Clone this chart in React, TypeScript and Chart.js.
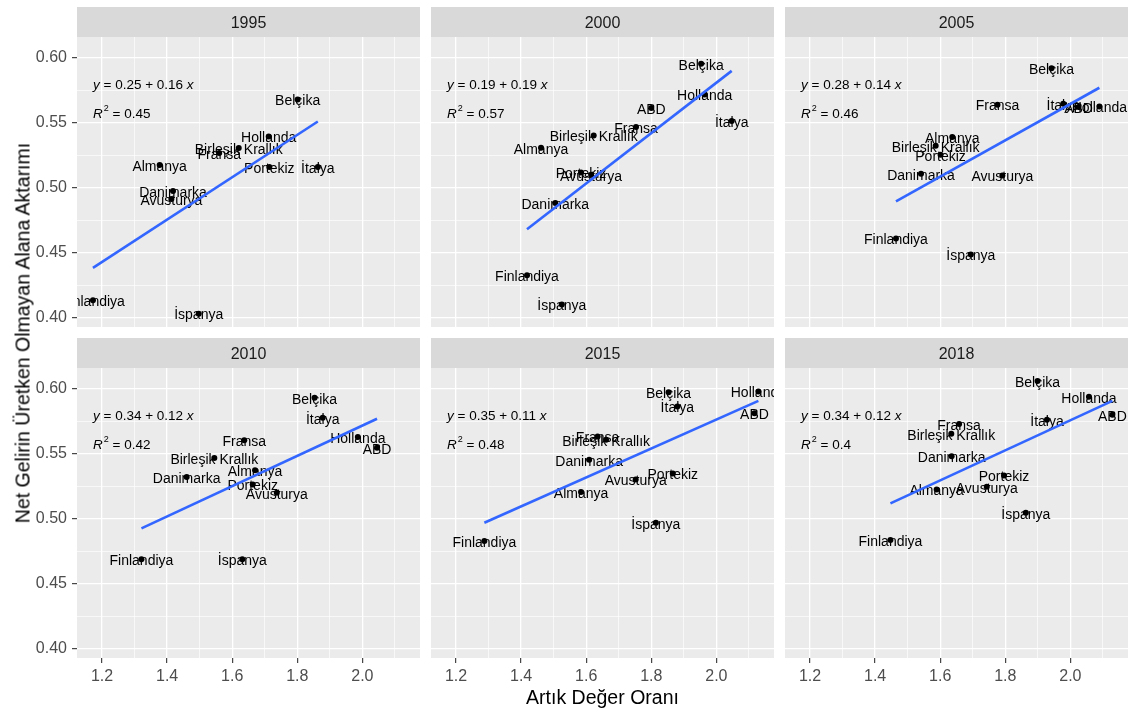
import React, { useEffect, useRef } from "react";
import { Chart, registerables } from "chart.js";

Chart.register(...registerables);

const FONT = '"Liberation Sans", Arial, Helvetica, sans-serif';

// ---------- data ----------
const countries = [
  "Belçika",
  "Hollanda",
  "Birleşik Krallık",
  "Fransa",
  "Almanya",
  "Portekiz",
  "İtalya",
  "Danimarka",
  "Avusturya",
  "Finlandiya",
  "İspanya",
  "ABD",
];

const years = ["1995", "2000", "2005", "2010", "2015", "2018"];

const x1995 = [1.801, 1.712, 1.62, 1.56, 1.377, 1.714, 1.863, 1.418, 1.413, 1.172, 1.497, null];
const y1995 = [0.568, 0.5395, 0.5305, 0.5267, 0.5174, 0.5159, 0.516, 0.4974, 0.4913, 0.4133, 0.403, null];

const x2000 = [1.953, 1.964, 1.623, 1.753, 1.461, 1.584, 2.047, 1.505, 1.615, 1.418, 1.525, 1.8];
const y2000 = [0.5954, 0.5718, 0.5403, 0.5467, 0.5308, 0.5118, 0.5513, 0.4882, 0.51, 0.4326, 0.41, 0.5615];

const x2005 = [1.942, 2.089, 1.586, 1.776, 1.637, 1.601, 1.978, 1.541, 1.791, 1.464, 1.694, 2.025];
const y2005 = [0.592, 0.5625, 0.5323, 0.564, 0.539, 0.5254, 0.5646, 0.5108, 0.5095, 0.4608, 0.4485, 0.5622];

const x2010 = [1.853, 1.986, 1.545, 1.637, 1.67, 1.663, 1.878, 1.46, 1.737, 1.321, 1.631, 2.045];
const y2010 = [0.5931, 0.5629, 0.5468, 0.5604, 0.5373, 0.5263, 0.5777, 0.5322, 0.52, 0.4688, 0.4688, 0.5547];

const x2015 = [1.853, 2.129, 1.661, 1.635, 1.584, 1.866, 1.88, 1.609, 1.752, 1.287, 1.814, 2.117];
const y2015 = [0.5974, 0.598, 0.5609, 0.5634, 0.5205, 0.5348, 0.5864, 0.5455, 0.5302, 0.4829, 0.4969, 0.5813];

const x2018 = [1.899, 2.057, 1.634, 1.658, 1.589, 1.796, 1.928, 1.635, 1.743, 1.447, 1.863, 2.129];
const y2018 = [0.6061, 0.5939, 0.5655, 0.5729, 0.5225, 0.5333, 0.5762, 0.5481, 0.5246, 0.4836, 0.5046, 0.58];

// fitted lines (end points)
const trendX1995 = [1.172, 1.863];
const trendY1995 = [0.4382, 0.551];
const trendX2000 = [1.418, 2.047];
const trendY2000 = [0.468, 0.59];
const trendX2005 = [1.464, 2.089];
const trendY2005 = [0.4895, 0.577];
const trendX2010 = [1.321, 2.045];
const trendY2010 = [0.4926, 0.577];
const trendX2015 = [1.287, 2.129];
const trendY2015 = [0.4969, 0.5908];
const trendX2018 = [1.447, 2.129];
const trendY2018 = [0.5118, 0.5908];

const intercepts = ["0.25", "0.19", "0.28", "0.34", "0.35", "0.34"];
const slopes = ["0.16", "0.19", "0.14", "0.12", "0.11", "0.12"];
const r2Values = ["0.45", "0.57", "0.46", "0.42", "0.48", "0.4"];

const xTickValues = [1.2, 1.4, 1.6, 1.8, 2.0];
const xTickLabels = ["1.2", "1.4", "1.6", "1.8", "2.0"];
const xMinorValues = [1.3, 1.5, 1.7, 1.9, 2.1];
const yTickValues = [0.4, 0.45, 0.5, 0.55, 0.6];
const yTickLabels = ["0.40", "0.45", "0.50", "0.55", "0.60"];
const yMinorValues = [0.425, 0.475, 0.525, 0.575];

const xTitle = "Artık Değer Oranı";
const yTitle = "Net Gelirin Üretken Olmayan Alana Aktarımı";

const X_MIN = 1.123;
const X_MAX = 2.177;
const Y_MIN = 0.3927;
const Y_MAX = 0.6161;

const seriesX = [x1995, x2000, x2005, x2010, x2015, x2018];
const seriesY = [y1995, y2000, y2005, y2010, y2015, y2018];
const trendXs = [trendX1995, trendX2000, trendX2005, trendX2010, trendX2015, trendX2018];
const trendYs = [trendY1995, trendY2000, trendY2005, trendY2010, trendY2015, trendY2018];

// ---------- layout ----------
const PANEL_LEFTS = [77, 431, 785];
const PANEL_W = 343;
const ROW_TOPS = [7, 338];
const STRIP_H = 30;
const PLOT_H = 290;
const X_AXIS_H = 30;
const Y_AXIS_W = 77;

const near = (a: number, list: number[]) => list.findIndex((t) => Math.abs(t - a) < 1e-6);

const panelPlugin = {
  id: "ggpanel",
  beforeDraw(chart: any, _args: any, opts: any) {
    const { ctx, chartArea: a } = chart;
    ctx.save();
    ctx.fillStyle = "#ebebeb";
    ctx.fillRect(a.left, a.top, a.right - a.left, a.bottom - a.top);
    ctx.fillStyle = "#d9d9d9";
    ctx.fillRect(a.left, a.top - STRIP_H, a.right - a.left, STRIP_H);
    ctx.fillStyle = "#1a1a1a";
    ctx.font = `16px ${FONT}`;
    ctx.textAlign = "center";
    ctx.textBaseline = "middle";
    ctx.fillText(opts.year, (a.left + a.right) / 2, a.top - 13);
    ctx.restore();
  },
  afterDatasetDraw(chart: any, args: any) {
    if (args.index !== 1) return;
    const { ctx, chartArea: a } = chart;
    const xs = chart.scales.x;
    const ys = chart.scales.y;
    ctx.save();
    ctx.beginPath();
    ctx.rect(a.left, a.top, a.right - a.left, a.bottom - a.top);
    ctx.clip();
    ctx.fillStyle = "#000000";
    ctx.font = `14px ${FONT}`;
    ctx.textAlign = "center";
    ctx.textBaseline = "middle";
    const data = chart.data.datasets[1].data;
    data.forEach((d: any) => {
      ctx.fillText(d.label, xs.getPixelForValue(d.x), ys.getPixelForValue(d.y) + 2);
    });
    ctx.restore();
  },
  afterDatasetsDraw(chart: any, _args: any, opts: any) {
    const { ctx, chartArea: a } = chart;
    ctx.save();
    ctx.fillStyle = "#000000";
    ctx.textBaseline = "middle";
    ctx.textAlign = "left";
    const x0 = a.left + 16;
    const yEq = a.top + 48;
    const yR = a.top + 77;
    const it = `italic 13.5px ${FONT}`;
    const rg = `13.5px ${FONT}`;
    let x = x0;
    ctx.font = it;
    ctx.fillText("y", x, yEq);
    x += ctx.measureText("y").width;
    ctx.font = rg;
    const mid = ` = ${opts.intercept} + ${opts.slope} `;
    ctx.fillText(mid, x, yEq);
    x += ctx.measureText(mid).width;
    ctx.font = it;
    ctx.fillText("x", x, yEq);

    x = x0;
    ctx.font = it;
    ctx.fillText("R", x, yR);
    x += ctx.measureText("R").width + 1;
    ctx.font = `9px ${FONT}`;
    ctx.fillText("2", x, yR - 5);
    x += ctx.measureText("2").width;
    ctx.font = rg;
    ctx.fillText(` = ${opts.r2}`, x, yR);
    ctx.restore();
  },
};

function buildConfig(idx: number) {
  const col = idx % 3;
  const row = Math.floor(idx / 3);
  const showY = col === 0;
  const showX = row === 1;
  const xs = seriesX[idx];
  const ys = seriesY[idx];
  const pts: any[] = [];
  countries.forEach((c, i) => {
    if (xs[i] != null && ys[i] != null) pts.push({ x: xs[i], y: ys[i], label: c });
  });
  const tx = trendXs[idx];
  const ty = trendYs[idx];
  const trend = tx.map((v, i) => ({ x: v, y: ty[i] }));

  return {
    type: "scatter",
    data: {
      datasets: [
        {
          type: "line",
          data: trend,
          borderColor: "#3366FF",
          borderWidth: 2.6,
          pointRadius: 0,
          fill: false,
          tension: 0,
          order: 0,
        },
        {
          type: "scatter",
          data: pts,
          backgroundColor: "#000000",
          borderColor: "#000000",
          borderWidth: 0,
          pointRadius: 3,
          order: 1,
        },
      ],
    },
    options: {
      animation: false,
      responsive: false,
      maintainAspectRatio: false,
      events: [],
      layout: { autoPadding: false, padding: { top: STRIP_H, left: 0, right: 0, bottom: 0 } },
      plugins: {
        legend: { display: false },
        tooltip: { enabled: false },
        title: { display: false },
        ggpanel: {
          year: years[idx],
          intercept: intercepts[idx],
          slope: slopes[idx],
          r2: r2Values[idx],
        },
      },
      scales: {
        x: {
          type: "linear",
          min: X_MIN,
          max: X_MAX,
          afterBuildTicks: (s: any) => {
            s.ticks = [...xTickValues, ...xMinorValues]
              .sort((a, b) => a - b)
              .map((v) => ({ value: v }));
          },
          afterFit: (s: any) => {
            s.height = showX ? X_AXIS_H : 0;
            s.paddingLeft = 0;
            s.paddingRight = 0;
            s.paddingTop = 0;
            s.paddingBottom = 0;
          },
          border: { display: false },
          grid: {
            color: "#ffffff",
            lineWidth: (c: any) => (c.tick && near(c.tick.value, xTickValues) >= 0 ? 1.3 : 0.65),
            drawTicks: showX,
            tickLength: 5,
            tickWidth: 1.1,
            tickColor: (c: any) =>
              c.tick && near(c.tick.value, xTickValues) >= 0 ? "#333333" : "rgba(0,0,0,0)",
          },
          ticks: {
            display: showX,
            autoSkip: false,
            maxRotation: 0,
            minRotation: 0,
            padding: 4,
            color: "#4d4d4d",
            font: { family: FONT, size: 16 },
            callback: (v: any) => {
              const i = near(Number(v), xTickValues);
              return i >= 0 ? xTickLabels[i] : "";
            },
          },
        },
        y: {
          type: "linear",
          min: Y_MIN,
          max: Y_MAX,
          afterBuildTicks: (s: any) => {
            s.ticks = [...yTickValues, ...yMinorValues]
              .sort((a, b) => a - b)
              .map((v) => ({ value: v }));
          },
          afterFit: (s: any) => {
            s.width = showY ? Y_AXIS_W : 0;
            s.paddingLeft = 0;
            s.paddingRight = 0;
            s.paddingTop = 0;
            s.paddingBottom = 0;
          },
          border: { display: false },
          grid: {
            color: "#ffffff",
            lineWidth: (c: any) => (c.tick && near(c.tick.value, yTickValues) >= 0 ? 1.3 : 0.65),
            drawTicks: showY,
            tickLength: 5,
            tickWidth: 1.1,
            tickColor: (c: any) =>
              c.tick && near(c.tick.value, yTickValues) >= 0 ? "#333333" : "rgba(0,0,0,0)",
          },
          ticks: {
            display: showY,
            autoSkip: false,
            padding: 5,
            color: "#4d4d4d",
            font: { family: FONT, size: 16 },
            callback: (v: any) => {
              const i = near(Number(v), yTickValues);
              return i >= 0 ? yTickLabels[i] : "";
            },
          },
        },
      },
    },
    plugins: [panelPlugin],
  };
}

function Panel({ idx }: { idx: number }) {
  const ref = useRef<HTMLCanvasElement>(null);
  const col = idx % 3;
  const row = Math.floor(idx / 3);
  const left = col === 0 ? PANEL_LEFTS[0] - Y_AXIS_W : PANEL_LEFTS[col];
  const width = col === 0 ? Y_AXIS_W + PANEL_W : PANEL_W;
  const top = ROW_TOPS[row];
  const height = STRIP_H + PLOT_H + (row === 1 ? X_AXIS_H : 0);

  useEffect(() => {
    const chart = new Chart(ref.current as HTMLCanvasElement, buildConfig(idx) as any);
    return () => chart.destroy();
  }, [idx]);

  return (
    <canvas
      ref={ref}
      width={width}
      height={height}
      style={{ position: "absolute", left, top, width, height, display: "block" }}
    />
  );
}

export default function App() {
  const totalTop = ROW_TOPS[0];
  const totalBottom = ROW_TOPS[1] + STRIP_H + PLOT_H;
  const span = totalBottom - totalTop;
  const yCenter = (totalTop + totalBottom) / 2;
  const plotLeft = PANEL_LEFTS[0];
  const plotRight = PANEL_LEFTS[2] + PANEL_W;

  useEffect(() => {
    document.body.style.margin = "0";
  }, []);

  return (
    <div
      style={{
        position: "absolute",
        left: 0,
        top: 0,
        width: 1131,
        height: 709,
        background: "#ffffff",
        overflow: "hidden",
        fontFamily: FONT,
      }}
    >
      {years.map((_, i) => (
        <Panel key={i} idx={i} />
      ))}
      <div
        style={{
          position: "absolute",
          left: plotLeft,
          width: plotRight - plotLeft,
          top: 685,
          height: 24,
          lineHeight: "24px",
          fontSize: 19.5,
          textAlign: "center",
          color: "#000",
          whiteSpace: "nowrap",
        }}
      >
        {xTitle}
      </div>
      <div
        style={{
          position: "absolute",
          left: 22 - span / 2,
          top: yCenter - 12,
          width: span,
          height: 24,
          lineHeight: "24px",
          fontSize: 19.5,
          textAlign: "center",
          color: "#000",
          whiteSpace: "nowrap",
          transform: "rotate(-90deg)",
          transformOrigin: "50% 50%",
        }}
      >
        {yTitle}
      </div>
    </div>
  );
}
